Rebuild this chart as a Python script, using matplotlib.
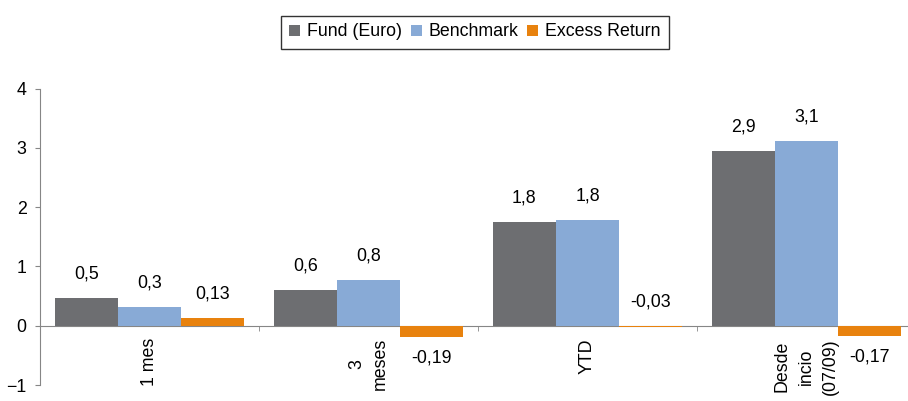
import numpy as np
import matplotlib
matplotlib.use('Agg')
import matplotlib.pyplot as plt

plt.rcParams['font.family'] = ['Liberation Sans', 'DejaVu Sans']

# Chart data
CATEGORIES = ['1 mes', '3\nmeses', 'YTD', 'Desde\nincio\n(07/09)']
SERIES     = ['Fund (Euro)', 'Benchmark', 'Excess Return']
FUND       = [0.46, 0.61, 1.75, 2.94]
BENCHMARK  = [0.32, 0.77, 1.79, 3.11]
EXCESS     = [0.13, -0.19, -0.03, -0.17]
DECIMALS   = [1, 1, 2]

COLORS = ['#6d6e71', '#88aad6', '#e8820e']
AXIS_GRAY = '#868686'
FS = 12.8

fig = plt.figure(figsize=(9.08, 4.01), dpi=100)
ax = fig.add_axes([40 / 908, 16 / 401, 876 / 908, 296.5 / 401])

x = np.arange(len(CATEGORIES))
width = 0.288

for i, (name, values, color, dec) in enumerate(zip(SERIES, [FUND, BENCHMARK, EXCESS], COLORS, DECIMALS)):
    pos = x + (i - 1) * width
    ax.bar(pos, values, width, color=color, label=name, zorder=2)
    for px, v in zip(pos, values):
        label = ('%.*f' % (dec, v)).replace('.', ',')
        if v < -0.1:
            ax.annotate(label, (px, v), xytext=(0, -21), textcoords='offset pixels',
                        ha='center', va='center', fontsize=FS)
        else:
            ax.annotate(label, (px, max(v, 0)), xytext=(0, 24), textcoords='offset pixels',
                        ha='center', va='center', fontsize=FS)

ax.set_xlim(-0.5, len(CATEGORIES) - 0.5)
ax.set_ylim(-1, 4)
ax.set_yticks(range(-1, 5))

ax.spines['top'].set_visible(False)
ax.spines['right'].set_visible(False)
ax.spines['bottom'].set_position(('data', 0))
ax.spines['bottom'].set_color(AXIS_GRAY)
ax.spines['left'].set_color(AXIS_GRAY)
ax.spines['bottom'].set_zorder(1.5)

ax.set_xticks(x)
ax.set_xticklabels(CATEGORIES, rotation=90, va='top', ha='center', multialignment='center',
                   fontsize=FS, linespacing=1.55)
ax.set_xticks(np.arange(-0.5, len(CATEGORIES)), minor=True)
ax.tick_params(axis='x', which='major', length=0, pad=9)
ax.tick_params(axis='x', which='minor', length=3.6, direction='out', color=AXIS_GRAY)
ax.tick_params(axis='y', length=3.6, direction='out', color=AXIS_GRAY, pad=6, labelsize=FS)

leg = fig.legend(loc='center', bbox_to_anchor=(475 / 908, 1 - 32 / 401), ncol=3, fontsize=FS,
                 frameon=True, fancybox=False, shadow=False, handlelength=0.6, handleheight=0.6,
                 handletextpad=0.4, columnspacing=0.5, borderpad=0.45, borderaxespad=0)
leg.get_frame().set_edgecolor('black')
leg.get_frame().set_linewidth(1.0)

fig.savefig('out.png', dpi=100)
